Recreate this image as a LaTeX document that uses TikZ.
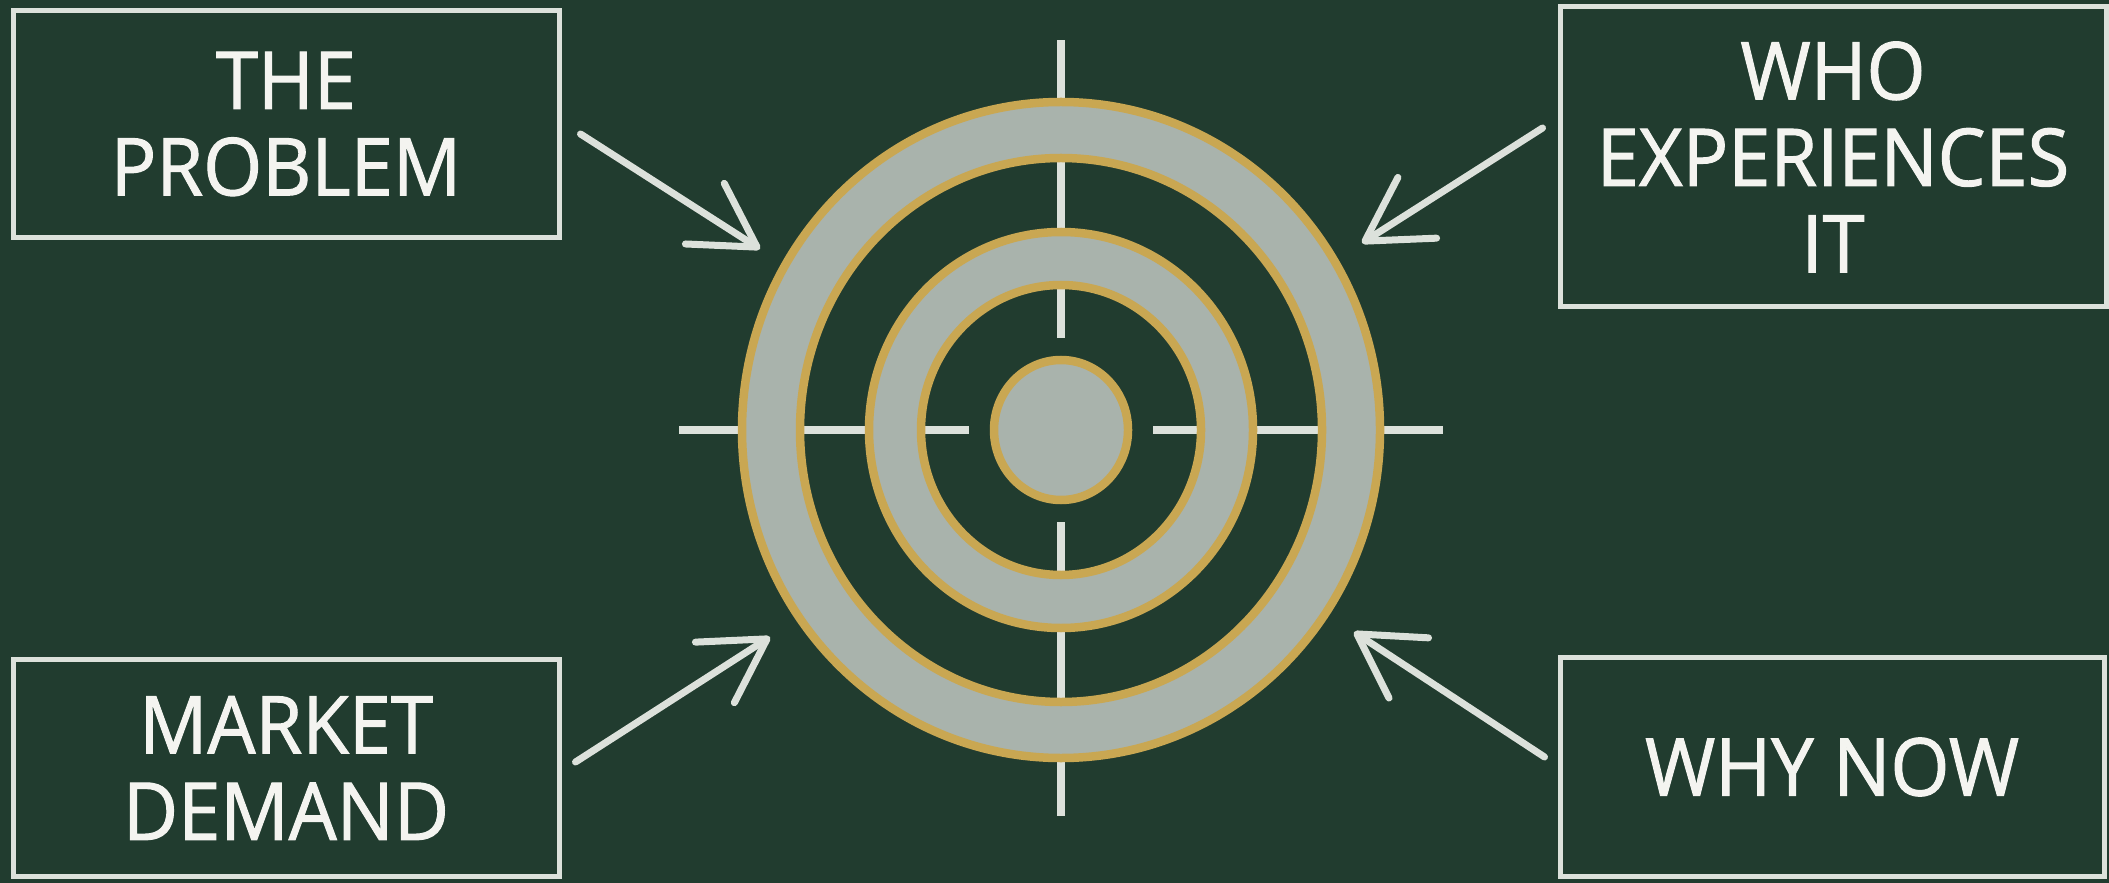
\documentclass[tikz,border=0pt]{standalone}
\usepackage{fontspec}
\setmainfont{Open Sans}[FakeStretch=0.95, FakeBold=1.3]
\usepackage{tikz}
\usetikzlibrary{positioning, arrows.meta, calc}
\definecolor{board}{HTML}{213C2F}
\definecolor{chalk}{HTML}{DCE1DB}
\definecolor{chalkfill}{HTML}{A9B3AC}
\definecolor{gold}{HTML}{C9A752}
\definecolor{lettering}{HTML}{F4F4F0}

\begin{document}
\begin{tikzpicture}[x=0.1mm, y=-0.1mm,
                topic/.style={draw=chalk, line width=0.5mm, rectangle, minimum width=54.6mm, inner sep=0pt, align=center, text=lettering, font=\fontsize{22.7}{24.6}\selectfont},
                pointer/.style={draw=chalk, line width=0.7mm, line cap=round, -{Straight Barb[length=6.2mm, width=7.2mm, round]}},
                crossline/.style={draw=chalk, line width=0.8mm},
                chalkband/.style={fill=chalkfill},
                goldring/.style={draw=gold, line width=0.85mm}
            ]

            % Tafel
            \fill[board] (0,0) rectangle (2109,883);
            \useasboundingbox (0,0) rectangle (2109,883);

            % Zielscheibe
            \coordinate (ctr) at (1061,430);
            \foreach \a/\len in {0/382, 90/386, 180/382, 270/390}
                \draw[crossline] ($(ctr)+(\a:92)$) -- ($(ctr)+(\a:\len)$);
            \fill[chalkband, even odd rule] (ctr) circle[x radius=319, y radius=328] (ctr) circle[x radius=261, y radius=272];
            \fill[chalkband, even odd rule] (ctr) circle[x radius=192, y radius=198] (ctr) circle[x radius=140, y radius=145];
            \fill[chalkband] (ctr) circle[x radius=67, y radius=70];
            \foreach \rx/\ry in {319/328, 261/272, 192/198, 140/145, 67/70}
                \draw[goldring] (ctr) circle[x radius=\rx, y radius=\ry];

            % Knoten
            \node[topic, minimum height=22.7mm] (prob) at (286,124) {THE\\PROBLEM};
            \node[topic, minimum height=30.0mm] (who) at (1833,157) {WHO\\EXPERIENCES\\IT};
            \node[topic, minimum height=21.7mm] (market) at (286,768) {MARKET\\DEMAND};
            \node[topic, minimum height=21.9mm, minimum width=54.4mm] (now) at (1832,767) {WHY NOW};

            \coordinate (hitprob) at (760,249);
            \coordinate (hitwho) at (1362,243);
            \coordinate (hitmarket) at (770,637);
            \coordinate (hitnow) at (1354,632);

            % Pfeile
            \draw[pointer] ([shift={(19,10)}]prob.east) -- (hitprob);
            \draw[pointer] ([shift={(-15,-29)}]who.west) -- (hitwho);
            \draw[pointer] ([shift={(14,-6)}]market.east) -- (hitmarket);
            \draw[pointer] ([shift={(-13,-10)}]now.west) -- (hitnow);

        \end{tikzpicture}
\end{document}
